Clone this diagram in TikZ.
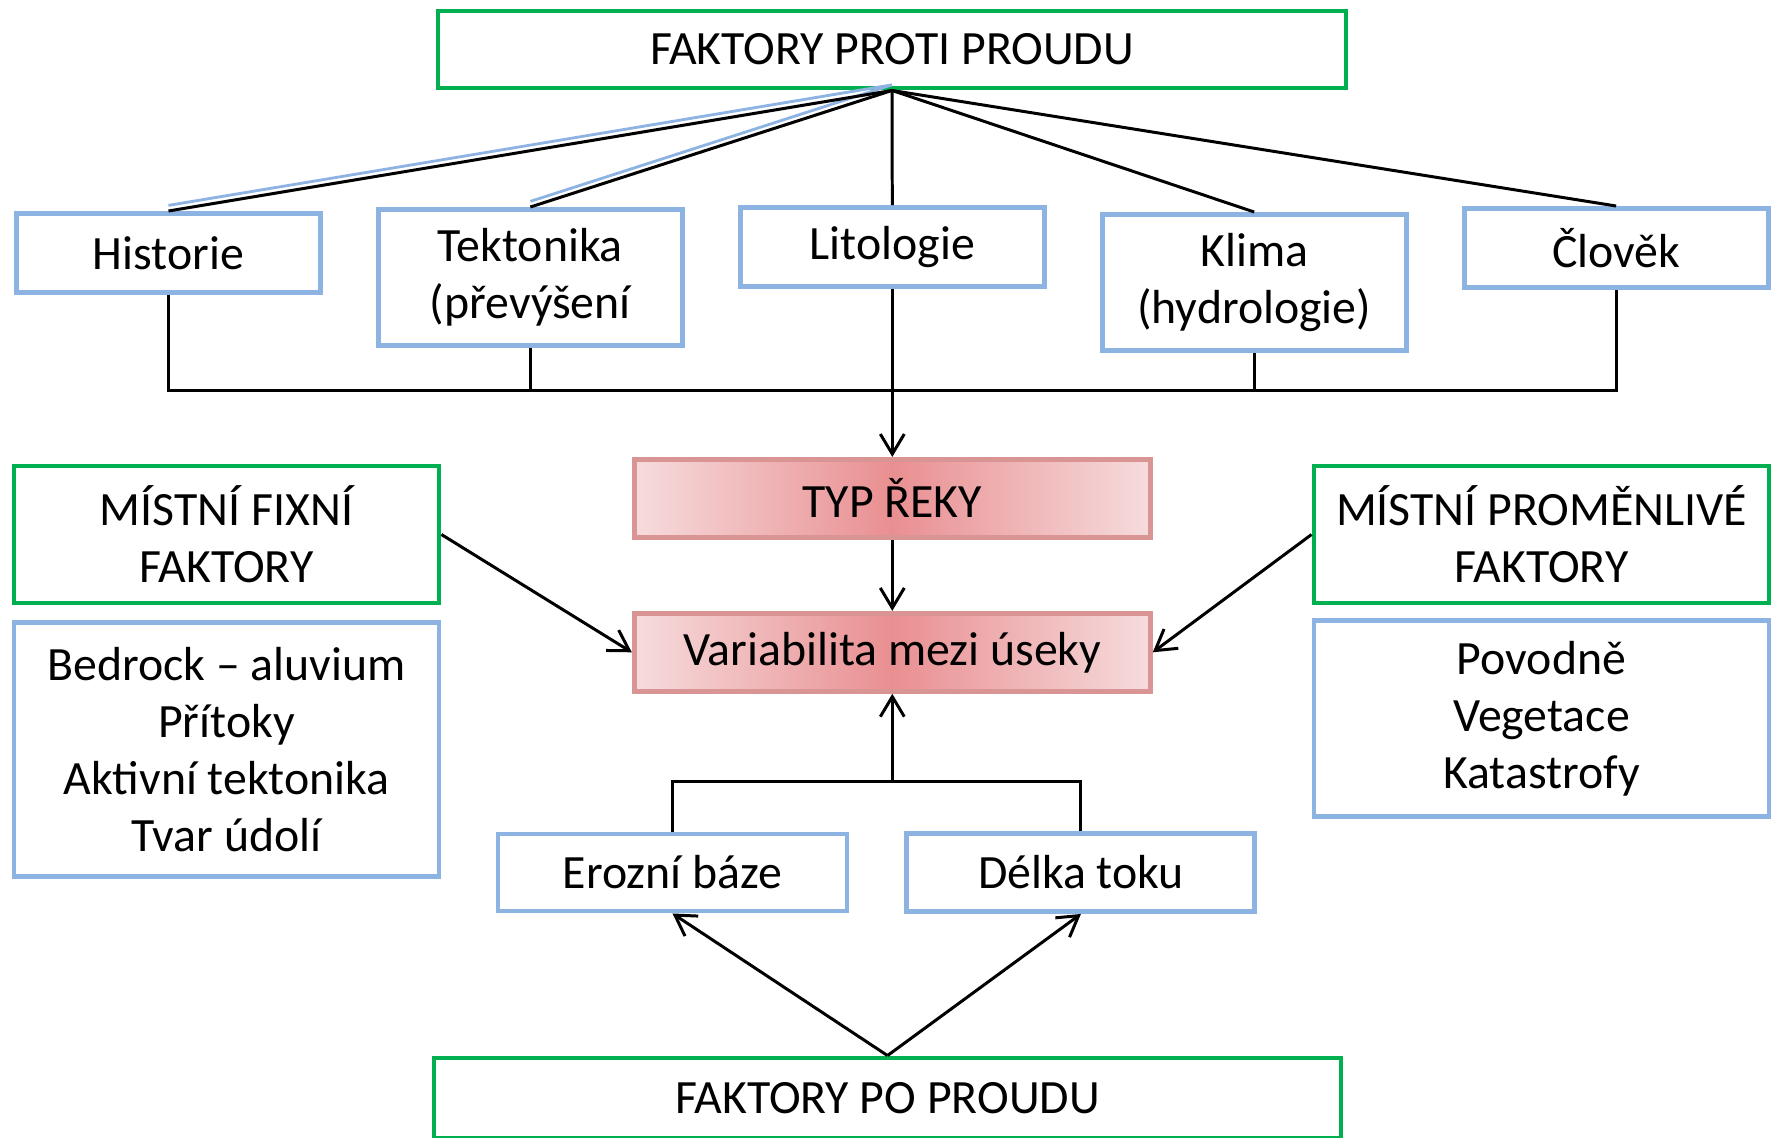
\documentclass[tikz,border=0pt]{standalone}
\usepackage{fontspec}
\setmainfont{Carlito}
\usetikzlibrary{arrows.meta, positioning}
\definecolor{boxgreen}{HTML}{00B050}
\definecolor{boxblue}{HTML}{8DB3E2}
\definecolor{boxred}{HTML}{D99594}
\definecolor{redlight}{HTML}{F6DCDD}
\definecolor{reddark}{HTML}{E98F91}
\tikzstyle{mainbox} = [rectangle, draw=boxgreen, line width=1.4pt, align=center, font=\fontsize{13.6}{16.2}\selectfont]
\tikzstyle{factor} = [rectangle, draw=boxblue, line width=1.4pt, minimum width=3.04cm, align=center, font=\fontsize{13.6}{16.2}\selectfont]
\tikzstyle{result} = [rectangle, draw=boxred, line width=1.4pt, left color=redlight, right color=redlight, middle color=reddark, minimum width=5.16cm, minimum height=0.78cm, font=\fontsize{13.6}{16.2}\selectfont]
\tikzstyle{link} = [line width=0.85pt]
\tikzstyle{arrow} = [line width=0.85pt, -{Straight Barb[length=2mm,width=2.4mm]}]
\tikzstyle{shadowlink} = [line width=0.8pt, draw=boxblue]

\begin{document}
\begin{tikzpicture}
        \useasboundingbox (0,0) rectangle (17.75,-11.37);
        % Nodes
        \node (proti) [mainbox, minimum width=9.08cm, minimum height=0.77cm] at (8.92,-0.495) {FAKTORY PROTI PROUDU};

        \node (hist) [factor, minimum height=0.79cm, anchor=north west] at (0.14,-2.11) {Historie};
        \node (tekt) [factor, minimum height=1.36cm, above right=0.04cm and 0.53cm of hist.north east, anchor=north west] {Tektonika\\(převýšení};
        \node (lito) [factor, minimum height=0.79cm, above right=0.02cm and 0.53cm of tekt.north east, anchor=north west] {Litologie};
        \node (klima) [factor, minimum height=1.36cm, below right=0.07cm and 0.53cm of lito.north east, anchor=north west] {Klima\\(hydrologie)};
        \node (clovek) [factor, minimum height=0.79cm, above right=0.06cm and 0.53cm of klima.north east, anchor=north west] {Člověk};

        \node (typ) [result, below=1.68cm of lito] {TYP ŘEKY};
        \node (var) [result, below=0.71cm of typ] {Variabilita mezi úseky};

        \node (fixni) [mainbox, minimum width=4.25cm, minimum height=1.37cm] at (2.265,-5.345) {MÍSTNÍ FIXNÍ\\FAKTORY};
        \node (bedrock) [factor, minimum width=4.25cm, minimum height=2.54cm, below=0.15cm of fixni] {Bedrock – aluvium\\Přítoky\\Aktivní tektonika\\Tvar údolí};
        \node (promen) [mainbox, minimum width=4.55cm, minimum height=1.37cm] at (15.415,-5.345) {MÍSTNÍ PROMĚNLIVÉ\\FAKTORY};
        \node (povodne) [factor, minimum width=4.55cm, minimum height=1.96cm, below=0.13cm of promen] {Povodně\\Vegetace\\Katastrofy};

        \node (eroz) [factor, minimum width=3.49cm, minimum height=0.77cm] at (6.725,-8.725) {Erozní báze};
        \node (delka) [factor, minimum width=3.48cm, minimum height=0.78cm, right=0.55cm of eroz] {Délka toku};
        \node (po) [mainbox, minimum width=9.07cm, minimum height=0.80cm] at (8.875,-10.98) {FAKTORY PO PROUDU};

        \coordinate (bus) at (0,-3.90);
        \coordinate (fork) at (0,-7.81);

        % Connections
        \draw [shadowlink] ([yshift=1.6pt]proti.south) -- ([yshift=1.6pt]hist.north);
        \draw [shadowlink] ([yshift=1.6pt]proti.south) -- ([yshift=1.6pt]tekt.north);
        \draw [link] (proti.south) -- (hist.north);
        \draw [link] (proti.south) -- (tekt.north);
        \draw [link] (proti.south) -- (lito.north);
        \draw [link] (proti.south) -- (klima.north);
        \draw [link] (proti.south) -- (clovek.north);

        \draw [link] (hist.south) |- (bus -| clovek.south) -- (clovek.south);
        \draw [link] (tekt.south) -- (tekt.south |- bus);
        \draw [link] (klima.south) -- (klima.south |- bus);
        \draw [arrow] (lito.south) -- (typ.north);
        \draw [arrow] (typ.south) -- (var.north);

        \draw [arrow] (fixni.east) -- (var.west);
        \draw [arrow] (promen.west) -- (var.east);

        \draw [link] (eroz.north) |- (fork -| delka.north) -- (delka.north);
        \draw [arrow] (fork -| var.south) -- (var.south);
        \draw [arrow] (po.north) -- (eroz.south);
        \draw [arrow] (po.north) -- (delka.south);
    \end{tikzpicture}
\end{document}
